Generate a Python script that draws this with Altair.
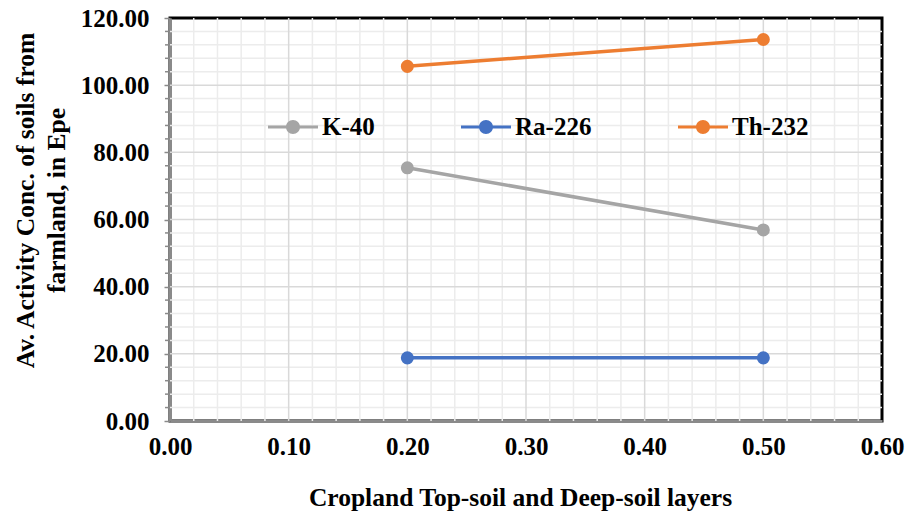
import altair as alt
import pandas as pd

# ---- data ----
depth = [0.20, 0.50]
series_names = ["K-40", "Ra-226", "Th-232"]
k40 = [75.4, 56.9]
ra226 = [18.8, 18.8]
th232 = [105.6, 113.6]
colors = ["#a5a5a5", "#4472c4", "#ed7d31"]

x_ticks = [0.0, 0.1, 0.2, 0.3, 0.4, 0.5, 0.6]
y_ticks = [0, 20, 40, 60, 80, 100, 120]
x_minor = [round(i * 0.02, 2) for i in range(31) if i % 5 != 0]
y_minor = [i * 4 for i in range(31) if i % 5 != 0]

rows = []
for name, vals in zip(series_names, [k40, ra226, th232]):
    for d, v in zip(depth, vals):
        rows.append({"depth": d, "conc": v, "series": name})
df = pd.DataFrame(rows)

FONT = "Liberation Serif"
xs = alt.Scale(domain=[0, 0.6], nice=False, zero=False)
ys = alt.Scale(domain=[0, 120], nice=False, zero=False)

x_axis = alt.Axis(
    values=x_ticks, format=".2f", grid=False, ticks=False,
    domainColor="#8a8a8a", domainWidth=3,
    labelFont=FONT, labelFontWeight="bold", labelFontSize=25, labelColor="black",
    labelPadding=13, labelFlush=False,
    title="Cropland Top-soil and Deep-soil layers",
    titleFont=FONT, titleFontWeight="bold", titleFontSize=25.5, titleColor="black",
    titleX=350, titleY=84, titleBaseline="alphabetic", titleAlign="center",
)
y_axis = alt.Axis(
    values=y_ticks, format=".2f", grid=False, ticks=True, tickSize=6,
    tickColor="#8a8a8a", tickWidth=1.5,
    domainColor="#8a8a8a", domainWidth=3,
    labelFont=FONT, labelFontWeight="bold", labelFontSize=25, labelColor="black",
    labelPadding=15, labelFlush=False,
    title=["Av. Activity Conc. of soils from", "farmland, in Epe"],
    titleFont=FONT, titleFontWeight="bold", titleFontSize=25.5, titleColor="black",
    titleLineHeight=31, titleAngle=270, titleX=-137, titleY=182,
    titleBaseline="alphabetic", titleAlign="center",
)

X = lambda f: alt.X(f, scale=xs, axis=x_axis)
Y = lambda f: alt.Y(f, scale=ys, axis=y_axis)

def vrules(vals, color, width):
    return alt.Chart(pd.DataFrame({"v": vals})).mark_rule(color=color, strokeWidth=width).encode(
        x=X("v:Q"))

def hrules(vals, color, width):
    return alt.Chart(pd.DataFrame({"v": vals})).mark_rule(color=color, strokeWidth=width).encode(
        y=Y("v:Q"))

minor_x = vrules(x_minor, "#ececec", 1.5)
minor_y = hrules(y_minor, "#ececec", 1.5)
major_x = vrules(x_ticks[1:-1], "#d9d9d9", 1.5)
major_y = hrules(y_ticks[1:-1], "#d9d9d9", 1.5)

minor_ticks = alt.Chart(pd.DataFrame({"v": y_minor})).mark_rule(color="#8a8a8a", strokeWidth=1.5).encode(
    y=Y("v:Q"), x=alt.value(-5), x2=alt.value(0))

line_layers = [
    alt.Chart(df[df["series"] == name]).mark_line(color=c, strokeWidth=3.5).encode(
        x=X("depth:Q"), y=Y("conc:Q"))
    for name, c in zip(series_names, colors)
]

sym_path = ("M-1,-0.06 L1,-0.06 L1,0.06 L-1,0.06 Z "
            "M-0.28,0 A0.28,0.28 0 1,1 0.28,0 A0.28,0.28 0 1,1 -0.28,0 Z")

points = alt.Chart(df).mark_point(filled=True, size=170, opacity=1, strokeWidth=0).encode(
    x=X("depth:Q"),
    y=Y("conc:Q"),
    fill=alt.Fill("series:N", scale=alt.Scale(domain=series_names, range=colors),
                  legend=alt.Legend(
                      title=None, orient="none", legendX=98, legendY=84,
                      direction="horizontal", symbolType=sym_path, symbolSize=2500,
                      symbolStrokeWidth=0, symbolOpacity=1,
                      labelFont=FONT, labelFontWeight="bold", labelFontSize=25,
                      labelColor="black", labelOffset=4, columnPadding=86, padding=0,
                  )),
)

chart = alt.layer(minor_x, minor_y, major_x, major_y, minor_ticks, *line_layers, points).properties(
    width=712, height=403,
    autosize=alt.AutoSizeParams(type="none"),
    padding={"left": 170, "top": 18, "right": 33, "bottom": 90},
    background="white",
).configure_view(stroke="black", strokeWidth=3)

chart.save("out.html", embed_options={"renderer": "svg", "actions": False})
